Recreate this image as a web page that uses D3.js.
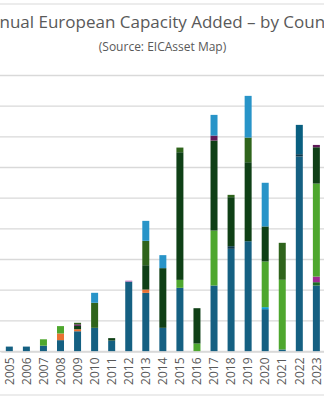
<!DOCTYPE html>
<html><head><meta charset="utf-8">
<script src="https://cdn.jsdelivr.net/npm/d3@7"></script>
<style>html,body{margin:0;padding:0;background:#fff;overflow:hidden}</style>
</head><body>
<svg id="c" width="324" height="400"></svg>
<script>
const years = ["2005","2006","2007","2008","2009","2010","2011","2012","2013","2014","2015","2016","2017","2018","2019","2020","2021","2022","2023"];
const seriesNames = ["Country 1","Country 2","Country 3","Country 4","Country 5","Country 6","Country 7","Country 9","Country 10","Country 11","Country 12","Country 16","Country 17"];
const seriesColors = ["#156082","#E97132","#196B24","#0F9ED5","#A02B93","#4EA72E","#0D3A4E","#0F4016","#095F80","#601A58","#2F641C","#2894C8","#C36BB8"];
//                 2005 2006 2007 2008 2009 2010 2011 2012 2013 2014 2015 2016 2017 2018 2019 2020 2021 2022 2023
const s1  = [  80,  80,  95, 185, 330, 386, 178,1140, 956, 386,1038,   0,1076,1674,1798, 690,  33,3179,1076];
const s2  = [   0,   0,   0, 109,  33,   0,   0,   0,  54,   0,   0,   0,   0,   0,   0,   0,   0,   0,   0];
const s3  = [   0,   0,   0,   0,   0,   0,   0,   0,   0,   0,   0,   0,   0,   0,   0,   0,   0,   0,  54];
const s4  = [   0,   0,   0,   0,   0,   0,   0,   0,   0,   0,   0,   0,   0,   0,   0,  33,   0,   0,   0];
const s5  = [   0,   0,   0,   0,   0,   0,   0,   0,   0,   0,   0,   0,   0,   0,   0,   0,   0,   0,  92];
const s6  = [   0,   0, 104, 120,   0,   0,   0,   0,   0,   0, 130, 130, 896,   0,   0, 745,1136,   0,1516];
const s7  = [   0,   0,   0,   0,   0,   0,   0,   0,   0,   0,   0,   0,   0,  43,   0,   0,   0,  38,   0];
const s9  = [   0,   0,   0,   0,  55,   0,  40,   0, 397, 973,2081, 576,1467, 799,1288, 571,   0,   0, 592];
const s10 = [   0,   0,   0,   0,   0,   0,   0,   0,   0,   0,   0,   0,   0,   0,   0,   0,   0, 478,   0];
const s11 = [   0,   0,   0,   0,  25,   0,   0,   0,   0,   0,   0,   0,  82,   0,   0,   0,   0,   0,  38];
const s12 = [   0,   0,   0,   0,  25, 408,   0,   0, 397,   0,  76,   0,   0,  38, 402,   0, 603,   0,   0];
const s16 = [   0,   0,   0,   0,   0, 163,   0,   0, 326, 212,   0,   0, 337,   0, 680, 712,   0,   0,   0];
const s17 = [   0,   0,   0,   0,   0,   0,   0,  15,   0,   0,   0,   0,   0,   0,   0,   0,   0,   0,   0];
const seriesValues = [s1,s2,s3,s4,s5,s6,s7,s9,s10,s11,s12,s16,s17];
const yTicks = [0,500,1000,1500,2000,2500,3000,3500,4000,4500];
const titleText = "Annual European Capacity Added – by Country";
const subtitleText = "(Source: EICAsset Map)";

const rows = years.map((y,i)=>{const o={year:y};seriesNames.forEach((n,k)=>o[n]=seriesValues[k][i]);return o;});
const stack = d3.stack().keys(seriesNames)(rows);

const svg = d3.select("#c");
svg.append("rect").attr("x",-10).attr("y",4).attr("width",344).attr("height",391)
  .attr("fill","#fff").attr("stroke","#d9d9d9").attr("stroke-width",1);

const x = d3.scaleBand().domain(years).range([0.8,324.9]).paddingInner(0.59).paddingOuter(0.295);
const y = d3.scaleLinear().domain([0,4500]).range([351.5,75.5]);

const grid = svg.append("g").attr("class","grid");
grid.selectAll("line").data(yTicks).join("line")
  .attr("x1",-5).attr("x2",330)
  .attr("y1",d=>y(d)).attr("y2",d=>y(d))
  .attr("stroke","#d9d9d9").attr("stroke-width",1.3);

svg.append("g").selectAll("g").data(stack).join("g")
  .attr("fill",(d,i)=>seriesColors[i])
  .selectAll("rect").data(d=>d.filter(e=>e[1]-e[0]>0)).join("rect")
  .attr("x",d=>x(d.data.year)).attr("width",x.bandwidth())
  .attr("y",d=>y(d[1])).attr("height",d=>y(d[0])-y(d[1]));

const xAxis = svg.append("g").attr("transform","translate(0,351.5)")
  .call(d3.axisBottom(x).tickSize(0).tickPadding(0));
xAxis.select(".domain").attr("stroke","#d9d9d9").attr("stroke-width",1.3);
xAxis.selectAll("text")
  .attr("transform","rotate(-90)")
  .attr("x",-6).attr("y",0).attr("dy","0.35em")
  .attr("text-anchor","end")
  .attr("font-family","'Open Sans', sans-serif").attr("font-size",12).attr("fill","#595959");

svg.append("text").attr("x",162.5).attr("y",28).attr("text-anchor","middle")
  .attr("font-family","'Open Sans', sans-serif").attr("font-size",17).attr("fill","#595959").text(titleText);
svg.append("text").attr("x",162.5).attr("y",51).attr("text-anchor","middle")
  .attr("font-family","'Open Sans', sans-serif").attr("font-size",12).attr("fill","#595959").text(subtitleText);
</script>
</body></html>
